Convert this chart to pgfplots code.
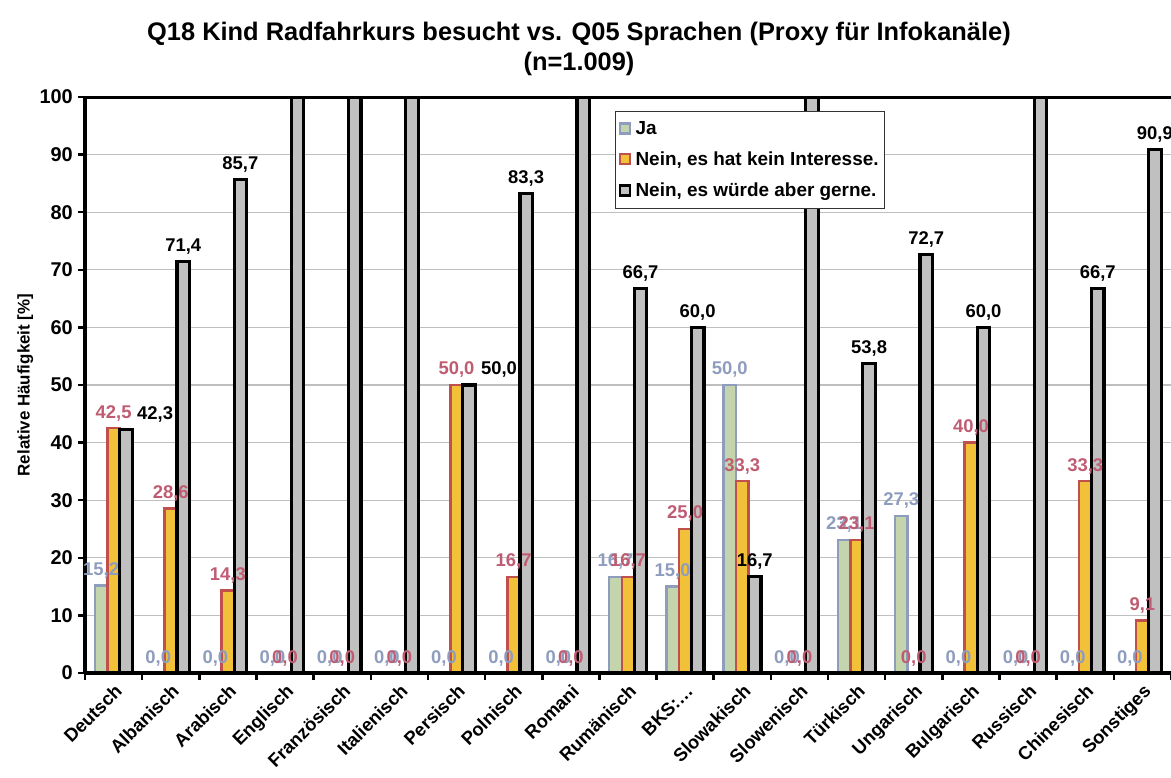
\documentclass[border=0pt]{standalone}
\usepackage{fontspec}
\setmainfont{Liberation Sans}
\usepackage{pgfplots}
\usepackage{pgfplotstable}
\pgfplotsset{compat=1.18}

\definecolor{jaFill}{HTML}{C4D5AE}
\definecolor{jaLine}{HTML}{8E9DBE}
\definecolor{neinFill}{HTML}{F2C13A}
\definecolor{neinLine}{HTML}{C0504D}
\definecolor{neinText}{HTML}{C05C72}
\definecolor{gerneFill}{HTML}{C0C0C0}

% Ja
\pgfplotstableread{
x y lab
0 15.2 15,2
1 0 0,0
2 0 0,0
3 0 0,0
4 0 0,0
5 0 0,0
6 0 0,0
7 0 0,0
8 0 0,0
9 16.7 16,7
10 15.0 15,0
11 50.0 50,0
12 0 0,0
13 23.1 23,1
14 27.3 27,3
15 0 0,0
16 0 0,0
17 0 0,0
18 0 0,0
}\ja

% Nein, es hat kein Interesse.
\pgfplotstableread{
x y lab
0 42.5 42,5
1 28.6 28,6
2 14.3 14,3
3 0 0,0
4 0 0,0
5 0 0,0
6 50.0 50,0
7 16.7 16,7
8 0 0,0
9 16.7 16,7
10 25.0 25,0
11 33.3 33,3
12 0 0,0
13 23.1 23,1
14 0 0,0
15 40.0 40,0
16 0 0,0
17 33.3 33,3
18 9.1 9,1
}\nein

% Nein, es wuerde aber gerne. (dx = label shift in bp)
\pgfplotstableread{
x y lab dx
0 42.3 42,3 29
1 71.4 71,4 0
2 85.7 85,7 0
3 100 {} 0
4 100 {} 0
5 100 {} 0
6 50.0 50,0 30
7 83.3 83,3 0
8 100 {} 0
9 66.7 66,7 0
10 60.0 60,0 0
11 16.7 16,7 0
12 100 {} 0
13 53.8 53,8 0
14 72.7 72,7 0
15 60.0 60,0 0
16 100 {} 0
17 66.7 66,7 0
18 90.9 90,9 0
}\gerne

\begin{document}
\begin{tikzpicture}
\begin{axis}[
    name=ax,
    width=1086bp, height=576bp, scale only axis,
    xmin=-0.5, xmax=18.5, ymin=0, ymax=100,
    ybar=0pt, bar width=12.5bp,
    axis lines*=left,
    axis line style={line width=3.5bp, black},
    xtick={0,...,18},
    xticklabels={Deutsch,Albanisch,Arabisch,Englisch,Französisch,Italienisch,Persisch,Polnisch,Romani,Rumänisch,BKS:…,Slowakisch,Slowenisch,Türkisch,Ungarisch,Bulgarisch,Russisch,Chinesisch,Sonstiges},
    major x tick style={draw=none},
    minor xtick={-0.5,0.5,...,18.5},
    ytick={0,10,...,100},
    tick align=outside,
    major tick length=7bp, minor tick length=7bp,
    tick style={line width=2.5bp, black},
    ymajorgrids, grid style={line width=1.2bp, black!25},
    /pgf/number format/assume math mode=true,
    x tick label style={rotate=45, anchor=north east, font=\bfseries\fontsize{18.5}{20}\selectfont, inner sep=2bp},
    y tick label style={font=\bfseries\fontsize{20}{22}\selectfont, inner sep=5bp},
    ylabel={Relative Häufigkeit [\%]},
    ylabel style={at={(axis description cs:-0.055,0.5)}, anchor=center, font=\bfseries\fontsize{17}{19}\selectfont},
    point meta=explicit symbolic,
    nodes near coords,
    every node near coord/.append style={font=\bfseries\fontsize{18.5}{19}\selectfont, anchor=base, yshift=10bp, inner sep=0pt},
    legend style={at={(0.488,0.976)}, anchor=north west, draw=black!80, line width=0.8bp,
        font=\bfseries\fontsize{19}{21}\selectfont, row sep=12bp, inner xsep=3.5bp, inner ysep=8bp},
    legend cell align=left,
    legend image code/.code={\draw[#1, line width=2.2bp] (0bp,-5bp) rectangle (10bp,5bp); \path (12bp,0bp);},
]
\addplot[fill=jaFill, draw=jaLine, line width=2.5bp,
    every node near coord/.append style={text=jaLine}]
    table[x=x, y=y, meta=lab] {\ja};
\addlegendentry{Ja}
\addplot[fill=neinFill, draw=neinLine, line width=2.5bp,
    every node near coord/.append style={text=neinText}]
    table[x=x, y=y, meta=lab] {\nein};
\addlegendentry{Nein, es hat kein Interesse.}
\addplot[fill=gerneFill, draw=black, line width=3.2bp,
    visualization depends on={\thisrow{dx} \as \labeldx},
    every node near coord/.append style={text=black, xshift=\labeldx bp}]
    table[x=x, y=y, meta=lab] {\gerne};
\addlegendentry{Nein, es würde aber gerne.}
\draw[line width=3.5bp] (rel axis cs:0,1) -- (rel axis cs:1,1);
\draw[line width=3.5bp] (rel axis cs:0,0) -- (rel axis cs:1,0);
\end{axis}
\node[font=\bfseries\fontsize{25.5}{30}\selectfont, align=center]
    at ([xshift=494bp, yshift=624bp]ax.south west)
    {Q18 Kind Radfahrkurs besucht vs. Q05 Sprachen (Proxy für Infokanäle)\\(n=1.009)};
\pgfresetboundingbox
\path[use as bounding box] ([xshift=-85bp, yshift=-105bp]ax.south west) rectangle ([xshift=1086bp, yshift=673bp]ax.south west);
\end{tikzpicture}
\end{document}
